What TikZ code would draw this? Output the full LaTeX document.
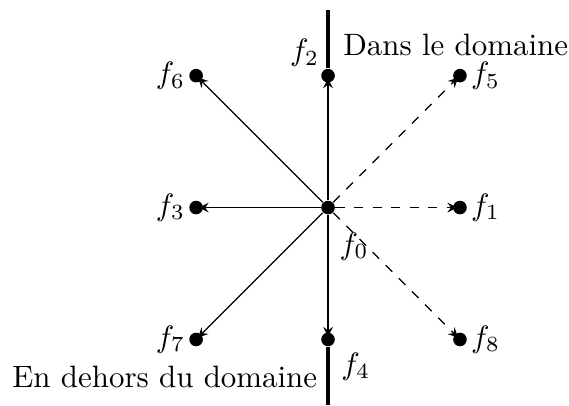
\documentclass[tikz,border=0pt]{standalone}
\begin{document}
\begin{tikzpicture}[pt/.style={circle, fill, inner sep=0pt, minimum size=4.4pt},
  every label/.style={inner sep=1pt},
  vers/.style={-stealth, thin, shorten >=-1.5pt},
  bord/.style={line width=1.3pt}]
  \useasboundingbox (-3.73,-2.25) rectangle (2.74,2.36);
  % Noeud central f0
  \node[pt, label={[label distance=5pt]-70:$f_0$}] (f0) at (0,0) {};
  % Voisins
  \foreach \i/\x/\y/\cote in {1/1.5/0/right, 2/0/1.5/above left, 3/-1.5/0/left,
    5/1.5/1.5/right, 6/-1.5/1.5/left, 7/-1.5/-1.5/left, 8/1.5/-1.5/right} {
    \node[pt, label={\cote:$f_{\i}$}] (f\i) at (\x,\y) {};
  }
  \node[pt, label={[label distance=2pt]below right:$f_4$}] (f4) at (0,-1.5) {};
  % Directions
  \foreach \i in {2,3,4,6,7} \draw[vers] (f0) -- (f\i);
  \foreach \i in {1,5,8} \draw[vers, dashed] (f0) -- (f\i);
  % Bord du domaine
  \coordinate (haut) at (0,2.25);
  \coordinate (bas) at (0,-2.25);
  \draw[bord] (f2) -- (haut);
  \draw[bord] (f4) -- (bas);
  \node[anchor=west] (dans) at (0.05,1.85) {Dans le domaine};
  \node[anchor=east] (dehors) at (0,-1.93) {En dehors du domaine};
\end{tikzpicture}
\end{document}
